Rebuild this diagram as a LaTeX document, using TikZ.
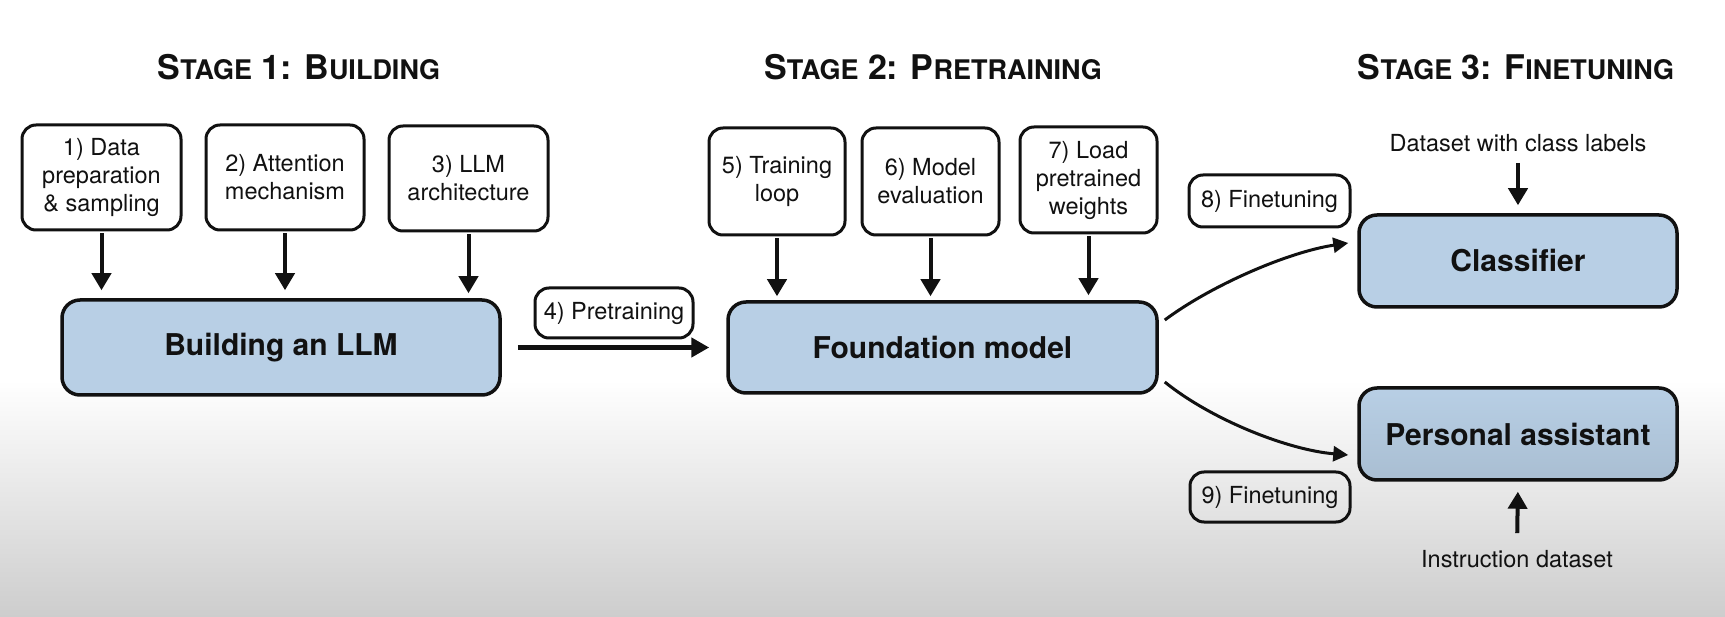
\documentclass[tikz,border=0pt]{standalone}
\usepackage{fontspec}
\setmainfont{TeX Gyre Heros}
\usetikzlibrary{arrows.meta,calc}
\definecolor{boxblue}{RGB}{184,207,229}
\definecolor{boxbluedark}{RGB}{169,190,210}
\definecolor{inkblack}{RGB}{17,17,17}
\definecolor{bggray}{RGB}{205,205,205}
\newcommand\tbig[1]{{\fontsize{34}{40}\selectfont #1}}
\newcommand\tsml[1]{{\fontsize{27}{40}\selectfont #1}}
\begin{document}
\begin{tikzpicture}[x=1pt,y=-1pt,
  every node/.style={text=inkblack},
  smallbox/.style={draw=inkblack,line width=3pt,rounded corners=14pt,align=center,
    font=\fontsize{23.5}{28}\selectfont,inner sep=0pt},
  bigbox/.style={draw=inkblack,line width=3.5pt,rounded corners=18pt,fill=boxblue,
    font=\bfseries\fontsize{30}{36}\selectfont,inner sep=0pt,
    minimum width=318pt,minimum height=92pt},
  plaintext/.style={font=\fontsize{23.5}{28}\selectfont,inner sep=2pt},
  title/.style={font=\bfseries,anchor=base,inner sep=0pt},
  vflow/.style={line width=4pt,draw=inkblack,-{Triangle[width=19pt,length=17pt]}},
  hflow/.style={line width=5pt,draw=inkblack,-{Triangle[width=19pt,length=18pt]}},
  cflow/.style={line width=3pt,draw=inkblack,-{Triangle[width=15pt,length=15pt]}}
]
% background
\useasboundingbox (0,0) rectangle (1725,617);
\fill[white] (0,0) rectangle (1725,617);
\shade[top color=white,bottom color=bggray] (0,380) rectangle (1725,617);

% titles
\node[title] (t1) at (299,80) {\tbig{S}\tsml{TAGE}\tbig{ 1: B}\tsml{UILDING}};
\node[title] (t2) at (933,80) {\tbig{S}\tsml{TAGE}\tbig{ 2: P}\tsml{RETRAINING}};
\node[title] (t3) at (1516,80) {\tbig{S}\tsml{TAGE}\tbig{ 3: F}\tsml{INETUNING}};

% stage 1
\node[smallbox,minimum width=159pt,minimum height=105pt] (b1) at (101.5,177.5) {1) Data\\preparation\\\& sampling};
\node[smallbox,minimum width=158pt,minimum height=105pt] (b2) at (285,177.5) {2) Attention\\mechanism};
\node[smallbox,minimum width=159pt,minimum height=105pt] (b3) at (468.5,178.5) {3) LLM\\architecture};
\node[bigbox,minimum width=438pt,minimum height=95pt] (build) at (281,347.5) {Building an LLM};

% stage 2
\node[smallbox,minimum width=158pt,minimum height=50pt] (p4) at (614,313) {4) Pretraining};
\node[bigbox,minimum width=429pt,minimum height=91pt] (found) at (942.5,347.5) {Foundation model};
\node[smallbox,minimum width=136pt,minimum height=107pt] (b5) at (777,181.5) {5) Training\\loop};
\node[smallbox,minimum width=137pt,minimum height=107pt] (b6) at (930.5,181.5) {6) Model\\evaluation};
\node[smallbox,minimum width=137pt,minimum height=106pt] (b7) at (1088.5,180) {7) Load\\pretrained\\weights};

% stage 3
\node[smallbox,minimum width=161pt,minimum height=52pt] (f8) at (1269.5,201) {8) Finetuning};
\node[bigbox] (cls) at (1518,261) {Classifier};
\node[bigbox,top color=boxblue,bottom color=boxbluedark] (pa) at (1518,434) {Personal assistant};
\node[smallbox,minimum width=160pt,minimum height=50pt] (f9) at (1270,497) {9) Finetuning};
\node[plaintext] (ds) at (1518,143) {Dataset with class labels};
\node[plaintext] (inst) at (1517,559) {Instruction dataset};

% connectors
\draw[vflow,shorten <=2pt,shorten >=8pt] (b1.south) -- (b1.south |- build.north);
\draw[vflow,shorten <=2pt,shorten >=8pt] (b2.south) -- (b2.south |- build.north);
\draw[vflow,shorten <=2pt,shorten >=5pt] (b3.south) -- (b3.south |- build.north);
\draw[hflow,shorten <=16pt,shorten >=17pt] (build.east) -- (found.west);
\draw[vflow,shorten <=2pt,shorten >=4pt] (b5.south) -- (b5.south |- found.north);
\draw[vflow,shorten <=2pt,shorten >=4pt] (b6.south) -- (b6.south |- found.north);
\draw[vflow,shorten <=2pt,shorten >=5pt] (b7.south) -- (b7.south |- found.north);
\draw[vflow,shorten <=9pt,shorten >=8pt] (ds.south) -- (cls.north);
\draw[vflow,shorten <=15pt,shorten >=10pt] (inst.north) -- (pa.south);
\coordinate (fa) at ($(found.east)+(6,-27.5)$);
\coordinate (ca) at ($(cls.west)+(-9,-18)$);
\coordinate (fb) at ($(found.east)+(6,34.5)$);
\coordinate (pb) at ($(pa.west)+(-9,21)$);
\draw[cflow] (fa) .. controls +(47,-35) and +(-60,9) .. (ca);
\draw[cflow] (fb) .. controls +(47,38) and +(-60,-5) .. (pb);
\end{tikzpicture}
\end{document}
